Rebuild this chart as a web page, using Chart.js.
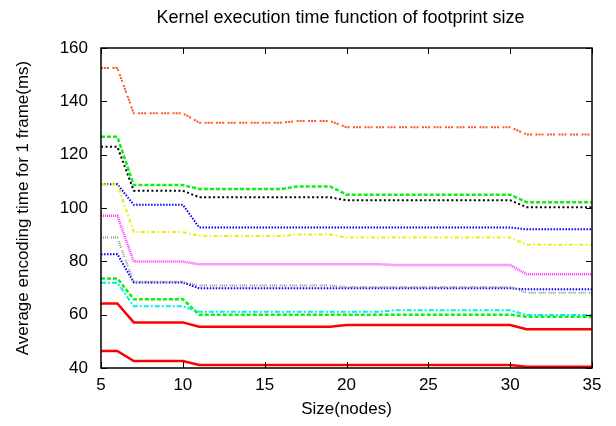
<!DOCTYPE html>
<html>
<head>
<meta charset="utf-8">
<title>Kernel execution time</title>
<script src="https://cdn.jsdelivr.net/npm/chart.js@4.4.0/dist/chart.umd.min.js"></script>
<style>
    html, body { margin: 0; padding: 0; background: #fff; }
    #wrap { width: 616px; height: 426px; }
</style>
</head>
<body>
<div id="wrap"><canvas id="myChart" width="616" height="426"></canvas></div>
<script>
// Size(nodes) on the x axis
const sizes = [5, 6, 7, 8, 9, 10, 11, 12, 13, 14, 15, 16, 17, 18, 19, 20,
    21, 22, 23, 24, 25, 26, 27, 28, 29, 30, 31, 32, 33, 34, 35];

// Average encoding time (ms), one array per curve
const orangeTimes = [152.5, 152.5, 135.5, 135.5, 135.5, 135.5, 132, 132, 132, 132, 132, 132, 132.6, 132.6, 132.6, 130.3,
    130.3, 130.3, 130.3, 130.3, 130.3, 130.3, 130.3, 130.3, 130.3, 130.3, 127.6, 127.6, 127.6, 127.6, 127.6];
const greenTopTimes = [126.7, 126.7, 108.6, 108.6, 108.6, 108.6, 107.1, 107.1, 107.1, 107.1, 107.1, 107.1, 108.1, 108.1, 108.1, 105,
    105, 105, 105, 105, 105, 105, 105, 105, 105, 105, 102.2, 102.2, 102.2, 102.2, 102.2];
const blackTimes = [123, 123, 106.5, 106.5, 106.5, 106.5, 104, 104, 104, 104, 104, 104, 104, 104, 104, 102.9,
    102.9, 102.9, 102.9, 102.9, 102.9, 102.9, 102.9, 102.9, 102.9, 102.9, 100.3, 100.3, 100.3, 100.3, 100.3];
const yellowTimes = [108.8, 108.8, 91, 91, 91, 91, 89.5, 89.5, 89.5, 89.5, 89.5, 89.5, 90.1, 90.1, 90.1, 88.9,
    88.9, 88.9, 88.9, 88.9, 88.9, 88.9, 88.9, 88.9, 88.9, 88.9, 86.2, 86.2, 86.2, 86.2, 86.2];
const blueTopTimes = [108.9, 108.9, 101.2, 101.2, 101.2, 101.2, 92.7, 92.7, 92.7, 92.7, 92.7, 92.7, 92.7, 92.7, 92.7, 92.7,
    92.7, 92.7, 92.7, 92.7, 92.7, 92.7, 92.7, 92.7, 92.7, 92.7, 92, 92, 92, 92, 92];
const magentaTimes = [97.1, 97.1, 79.9, 79.9, 79.9, 79.9, 78.9, 78.9, 78.9, 78.9, 78.9, 78.9, 78.9, 78.9, 78.9, 78.9,
    78.9, 78.9, 78.6, 78.6, 78.6, 78.6, 78.6, 78.6, 78.6, 78.6, 75.2, 75.2, 75.2, 75.2, 75.2];
const grayTimes = [88.9, 88.9, 72.3, 72.3, 72.3, 72.3, 70.9, 70.9, 70.9, 70.9, 70.9, 70.9, 70.9, 70.9, 70.9, 70.4,
    70.4, 70.4, 70.4, 70.4, 70.4, 70.4, 70.4, 70.4, 70.4, 70.4, 68.2, 68.2, 68.2, 68.2, 68.2];
const blueLowTimes = [82.7, 82.7, 72.1, 72.1, 72.1, 72.1, 69.9, 69.9, 69.9, 69.9, 69.9, 69.9, 69.9, 69.9, 69.9, 69.9,
    69.9, 69.9, 69.9, 69.9, 69.9, 69.9, 69.9, 69.9, 69.9, 69.9, 69.5, 69.5, 69.5, 69.5, 69.5];
const cyanTimes = [72, 72, 63.2, 63.2, 63.2, 63.2, 61.1, 61.1, 61.1, 61.1, 61.1, 61.1, 61.1, 61.1, 61.1, 61.1,
    61.1, 61.1, 61.7, 61.7, 61.7, 61.7, 61.7, 61.7, 61.7, 61.7, 59.9, 59.9, 59.9, 59.9, 59.9];
const greenLowTimes = [73.6, 73.6, 65.8, 65.8, 65.8, 65.8, 60, 60, 60, 60, 60, 60, 60, 60, 60, 60,
    60, 60, 60, 60, 60, 60, 60, 60, 60, 60, 59.2, 59.2, 59.2, 59.2, 59.2];
const redTopTimes = [64.2, 64.2, 57.1, 57.1, 57.1, 57.1, 55.5, 55.5, 55.5, 55.5, 55.5, 55.5, 55.5, 55.5, 55.5, 56.1,
    56.1, 56.1, 56.1, 56.1, 56.1, 56.1, 56.1, 56.1, 56.1, 56.1, 54.5, 54.5, 54.5, 54.5, 54.5];
const redLowTimes = [46.4, 46.4, 42.6, 42.6, 42.6, 42.6, 41.1, 41.1, 41.1, 41.1, 41.1, 41.1, 41.1, 41.1, 41.1, 41.1,
    41.1, 41.1, 41.1, 41.1, 41.1, 41.1, 41.1, 41.1, 41.1, 41.1, 40.5, 40.5, 40.5, 40.5, 40.5];

// Tick labels
const xTicks = [5, 10, 15, 20, 25, 30, 35];
const yTicks = [40, 60, 80, 100, 120, 140, 160];

const titleText = 'Kernel execution time function of footprint size';
const fontName = '"Liberation Sans", Arial, sans-serif';

// pair sizes with values
function toPoints(values) {
    return sizes.map((s, i) => ({ x: s, y: values[i] }));
}

function line(values, color, dash, width) {
    return {
        data: toPoints(values),
        borderColor: color,
        backgroundColor: color,
        borderDash: dash,
        borderWidth: width,
        pointRadius: 0,
        tension: 0,
        fill: false
    };
}

// gnuplot style frame: border box, inward ticks on all four sides, title over the plot
const framePlugin = {
    id: 'frame',
    afterDraw(chart) {
        const ctx = chart.ctx;
        const area = chart.chartArea;
        const xs = chart.scales.x;
        const ys = chart.scales.y;
        ctx.save();
        ctx.strokeStyle = '#000';
        ctx.lineWidth = 1;
        xTicks.forEach(v => {
            const px = Math.round(xs.getPixelForValue(v)) + 0.5;
            ctx.beginPath();
            ctx.moveTo(px, area.bottom); ctx.lineTo(px, area.bottom - 6);
            ctx.moveTo(px, area.top); ctx.lineTo(px, area.top + 6);
            ctx.stroke();
        });
        yTicks.forEach(v => {
            const py = Math.round(ys.getPixelForValue(v)) + 0.5;
            ctx.beginPath();
            ctx.moveTo(area.left, py); ctx.lineTo(area.left + 6, py);
            ctx.moveTo(area.right, py); ctx.lineTo(area.right - 6, py);
            ctx.stroke();
        });
        ctx.lineWidth = 1.5;
        ctx.strokeRect(area.left, area.top, area.right - area.left, area.bottom - area.top);

        ctx.fillStyle = '#000';
        ctx.font = '18px ' + fontName;
        ctx.textAlign = 'center';
        ctx.textBaseline = 'middle';
        ctx.fillText(titleText, (area.left + area.right) / 2 - 6, 18);
        ctx.restore();
    }
};

const ctx = document.querySelector('#myChart').getContext('2d');
const myChart = new Chart(ctx, {
    type: 'line',
    data: {
        datasets: [
            line(orangeTimes, '#ff5522', [2, 1, 2, 1, 2, 3.5], 2),
            line(greenTopTimes, '#11ee11', [4, 2], 2.5),
            line(blackTimes, '#000000', [2, 2.5], 2),
            line(yellowTimes, '#eeee00', [4, 2.5, 1.5, 2.5], 2),
            line(blueTopTimes, '#0000ff', [1.5, 1.5], 2),
            line(magentaTimes, '#ff33ff', [1, 1], 2.5),
            line(grayTimes, '#8c8c8c', [1, 1, 1, 1, 1, 1, 1, 3], 2),
            line(blueLowTimes, '#0000ff', [1.5, 1.5], 2),
            line(cyanTimes, '#00eeee', [5, 2, 2, 2], 2),
            line(greenLowTimes, '#11ee11', [4, 2], 2.5),
            line(redTopTimes, '#ff0000', [], 2.5),
            line(redLowTimes, '#ff0000', [], 2.5)
        ]
    },
    options: {
        responsive: false,
        animation: false,
        layout: { padding: { top: 48, right: 24, bottom: 0, left: 0 } },
        plugins: {
            legend: { display: false },
            title: { display: false },
            tooltip: { enabled: false }
        },
        scales: {
            x: {
                type: 'linear',
                min: 5,
                max: 35,
                afterBuildTicks: scale => { scale.ticks = xTicks.map(v => ({ value: v })); },
                afterFit: scale => { scale.height = 58; },
                grid: { display: false, drawTicks: false },
                border: { display: false },
                ticks: {
                    color: '#000',
                    padding: 7,
                    font: { family: fontName, size: 17 }
                },
                title: {
                    display: true,
                    text: 'Size(nodes)',
                    color: '#000',
                    padding: { top: 0, bottom: 6 },
                    font: { family: fontName, size: 17 }
                }
            },
            y: {
                type: 'linear',
                min: 40,
                max: 160,
                afterBuildTicks: scale => { scale.ticks = yTicks.map(v => ({ value: v })); },
                afterFit: scale => { scale.width = 101; },
                grid: { display: false, drawTicks: false },
                border: { display: false },
                ticks: {
                    color: '#000',
                    padding: 13,
                    font: { family: fontName, size: 17 }
                },
                title: {
                    display: true,
                    text: 'Average encoding time for 1 frame(ms)',
                    color: '#000',
                    padding: { top: 13, bottom: 0 },
                    font: { family: fontName, size: 17 }
                }
            }
        }
    },
    plugins: [framePlugin]
});
</script>
</body>
</html>
